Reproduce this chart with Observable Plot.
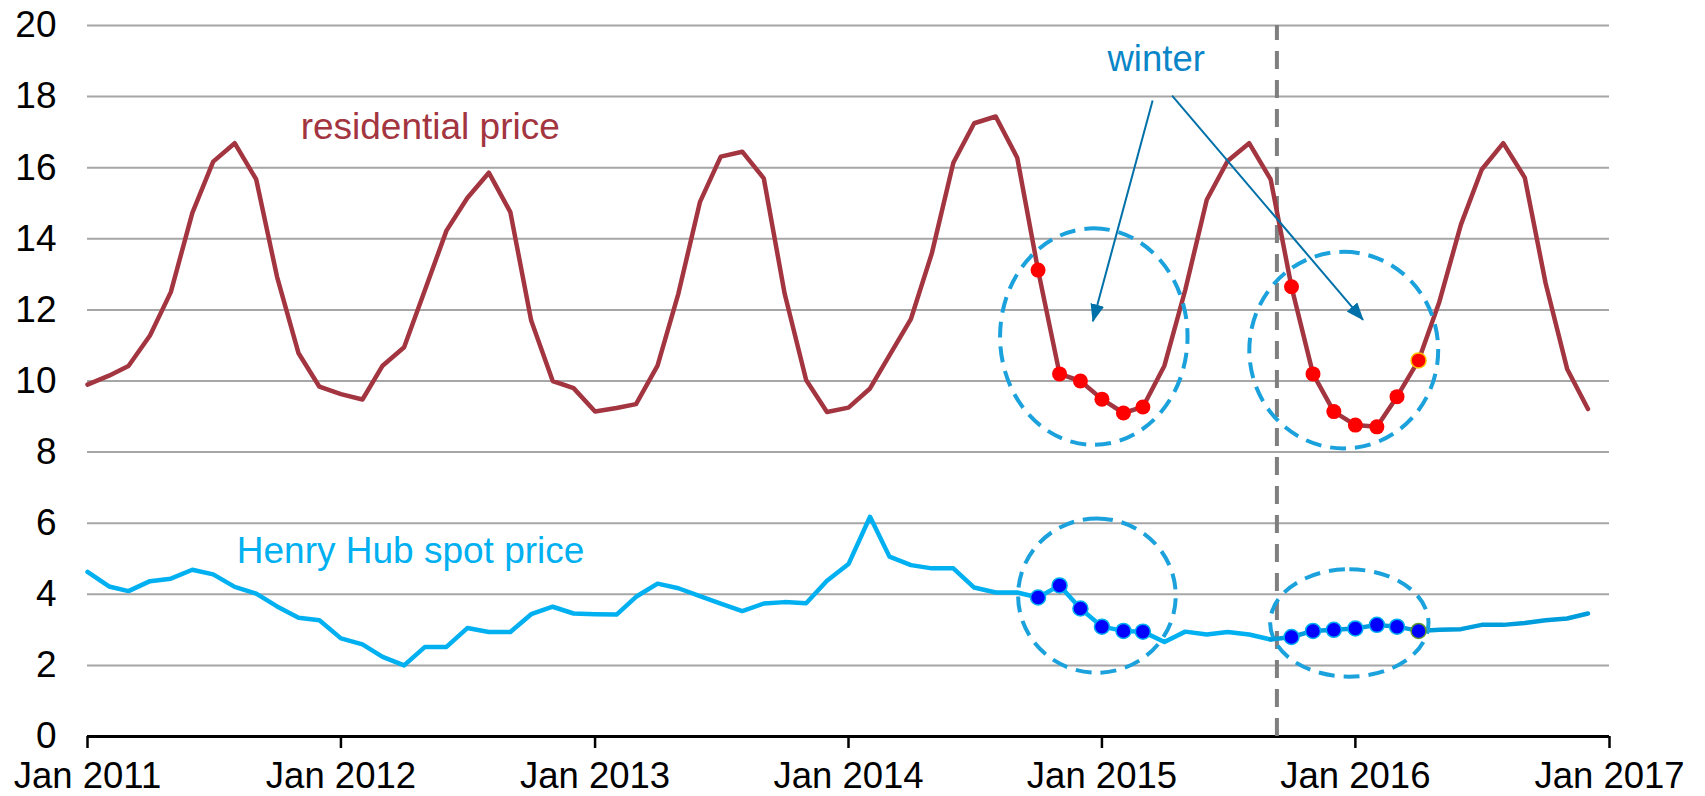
<!DOCTYPE html>
<html>
<head>
<meta charset="utf-8">
<script src="https://cdn.jsdelivr.net/npm/d3@7"></script>
<script src="https://cdn.jsdelivr.net/npm/@observablehq/plot@0.6"></script>
<style>
  html, body { margin: 0; padding: 0; background: #fff; }
  #chart svg { display: block; }
</style>
</head>
<body>
<div id="chart"></div>
<script>
// ---- data (monthly, Jan 2011 – Dec 2016) ----
const startMonth = "2011-01-01";
const endMonth = "2017-01-01";
const residential = [
  9.9, 10.15, 10.42, 11.28, 12.5, 14.73, 16.17, 16.69, 15.67, 12.93, 10.78, 9.84,
  9.63, 9.48, 10.43, 10.95, 12.56, 14.23, 15.15, 15.86, 14.75, 11.7, 10.0, 9.8,
  9.14, 9.24, 9.35, 10.43, 12.46, 15.03, 16.31, 16.45, 15.7, 12.46, 10.03, 9.13,
  9.25, 9.79, 10.72, 11.75, 13.59, 16.14, 17.25, 17.44, 16.28, 13.12, 10.2, 10.0,
  9.49, 9.1, 9.27, 10.43, 12.56, 15.1, 16.19, 16.69, 15.67, 12.65, 10.2, 9.14,
  8.76, 8.71, 9.56, 10.58, 12.23, 14.4, 15.95, 16.69, 15.72, 12.75, 10.34, 9.21
];
const henryHub = [
  4.63, 4.22, 4.09, 4.37, 4.44, 4.69, 4.56, 4.21, 4.02, 3.66, 3.34, 3.27,
  2.76, 2.59, 2.24, 2.0, 2.52, 2.52, 3.05, 2.94, 2.94, 3.44, 3.65, 3.46,
  3.44, 3.43, 3.93, 4.30, 4.17, 3.95, 3.74, 3.53, 3.74, 3.78, 3.75, 4.38,
  4.85, 6.18, 5.06, 4.82, 4.73, 4.73, 4.19, 4.05, 4.05, 3.91, 4.25, 3.6,
  3.09, 2.97, 2.95, 2.66, 2.95, 2.87, 2.94, 2.87, 2.73, 2.8, 2.97, 3.0,
  3.04, 3.14, 3.09, 2.97, 3.0, 3.02, 3.14, 3.14, 3.19, 3.27, 3.32, 3.46
];
// winter months highlighted with dots (month indexes)
const winter1 = [45, 46, 47, 48, 49, 50];          // Oct 2014 – Mar 2015
const winter2 = [57, 58, 59, 60, 61, 62, 63];      // Oct 2015 – Apr 2016
const hhColorSplit = 56;                            // Henry Hub line changes shade here
const yTicks = [0, 2, 4, 6, 8, 10, 12, 14, 16, 18, 20];
const xTicks = ["2011-01-01", "2012-01-01", "2013-01-01", "2014-01-01", "2015-01-01", "2016-01-01", "2017-01-01"];

// annotations
const labels = [
  {text: "residential price", date: "2011-11-04", value: 16.82, color: "#A33540", size: 37},
  {text: "Henry Hub spot price", date: "2011-08-04", value: 4.87, color: "#00B0F0", size: 37},
  {text: "winter", date: "2015-01-09", value: 18.73, color: "#0A86C8", size: 36.5}
];
const forecastStart = "2015-09-10";
const ellipses = [
  {x1: "2014-08-08", x2: "2015-05-05", y1: 8.19, y2: 14.28},
  {x1: "2015-08-02", x2: "2016-04-30", y1: 8.09, y2: 13.62},
  {x1: "2014-09-03", x2: "2015-04-18", y1: 1.78, y2: 6.12},
  {x1: "2015-09-01", x2: "2016-04-16", y1: 1.67, y2: 4.69}
];
const arrows = [
  {x1: "2015-03-15", y1: 17.89, x2: "2014-12-19", y2: 11.68},
  {x1: "2015-04-12", y1: 18.03, x2: "2016-01-12", y2: 11.72}
];

// ---- build tables ----
const months = d3.utcMonths(new Date(startMonth), new Date(endMonth));
const resData = months.map((d, i) => ({date: d, value: residential[i], i}));
const hhData = months.map((d, i) => ({date: d, value: henryHub[i], i}));
const hhA = hhData.filter(d => d.i <= hhColorSplit);
const hhB = hhData.filter(d => d.i >= hhColorSplit);
const winterIdx = winter1.concat(winter2);
const resDots = resData.filter(d => winterIdx.includes(d.i));
const hhDots = hhData.filter(d => winterIdx.includes(d.i));
const lastIdx = winter2[winter2.length - 1];
const P = s => new Date(s);
const ell = ellipses.map(e => ({...e, x1: P(e.x1), x2: P(e.x2)}));
const arr = arrows.map(a => ({...a, x1: P(a.x1), x2: P(a.x2)}));
const lab = labels.map(l => ({...l, date: P(l.date)}));

const chart = Plot.plot({
  width: 1705,
  height: 796,
  marginLeft: 87,
  marginRight: 96,
  marginTop: 25,
  marginBottom: 60,
  style: {fontFamily: "'Liberation Sans', Arial, sans-serif", fontSize: "37px", color: "#000", background: "#fff", overflow: "visible"},
  x: {type: "utc", domain: [P(startMonth), P(endMonth)]},
  y: {domain: [0, 20]},
  marks: [
    Plot.gridY(yTicks, {stroke: "#A6A6A6", strokeOpacity: 1, strokeWidth: 2}),
    Plot.axisY(yTicks, {tickSize: 0, tickPadding: 31, fontSize: 37, tickFormat: d => String(d), fill: "#000"}),
    Plot.axisX(xTicks.map(P), {tickSize: 12, tickPadding: 14, fontSize: 36.5, strokeWidth: 2.5, stroke: "#000", fill: "#000", tickFormat: d3.utcFormat("Jan %Y")}),
    Plot.ruleY([0], {stroke: "#000", strokeWidth: 3}),
    Plot.ruleX([P(forecastStart)], {y1: 0, y2: 20, stroke: "#7F7F7F", strokeWidth: 4, strokeDasharray: "18,11"}),
    Plot.line(resData, {x: "date", y: "value", stroke: "#A33540", strokeWidth: 4.5, curve: "linear"}),
    Plot.line(hhA, {x: "date", y: "value", stroke: "#00B0F0", strokeWidth: 4.5}),
    Plot.line(hhB, {x: "date", y: "value", stroke: "#009DDC", strokeWidth: 4.5}),
    Plot.rect(ell, {x1: "x1", x2: "x2", y1: "y1", y2: "y2", rx: 2000, ry: 2000, fill: "none", stroke: "#1BA1DC", strokeWidth: 4, strokeDasharray: "16,9"}),
    Plot.link(arr, {x1: "x1", y1: "y1", x2: "x2", y2: "y2", stroke: "#0070A8", strokeWidth: 2, markerEnd: "arrow"}),
    Plot.dot(resDots, {x: "date", y: "value", r: 7.5, fill: "#FF0000", stroke: d => d.i === lastIdx ? "#FFC000" : "none", strokeWidth: 1.5}),
    Plot.dot(hhDots, {x: "date", y: "value", r: 7.5, fill: "#0000FF", stroke: d => d.i === lastIdx ? "#5B9B2F" : "#00B0F0", strokeWidth: 1.5}),
    Plot.text(lab, {x: "date", y: "value", text: "text", fill: "color", fontSize: "size", textAnchor: "start", lineAnchor: "bottom"})
  ]
});

// turn Plot's open arrow markers into filled triangular arrowheads
d3.select(chart).selectAll("marker").each(function() {
  const m = d3.select(this);
  m.attr("viewBox", "0 0 18 14")
    .attr("refX", 17).attr("refY", 7)
    .attr("markerWidth", 18).attr("markerHeight", 14)
    .attr("markerUnits", "userSpaceOnUse")
    .attr("orient", "auto")
    .attr("fill", "#0070A8").attr("stroke", "none");
  m.selectAll("*").remove();
  m.append("path").attr("d", "M0,0L18,7L0,14Z").attr("fill", "#0070A8").attr("stroke", "none");
});

document.getElementById("chart").appendChild(chart);
</script>
</body>
</html>
